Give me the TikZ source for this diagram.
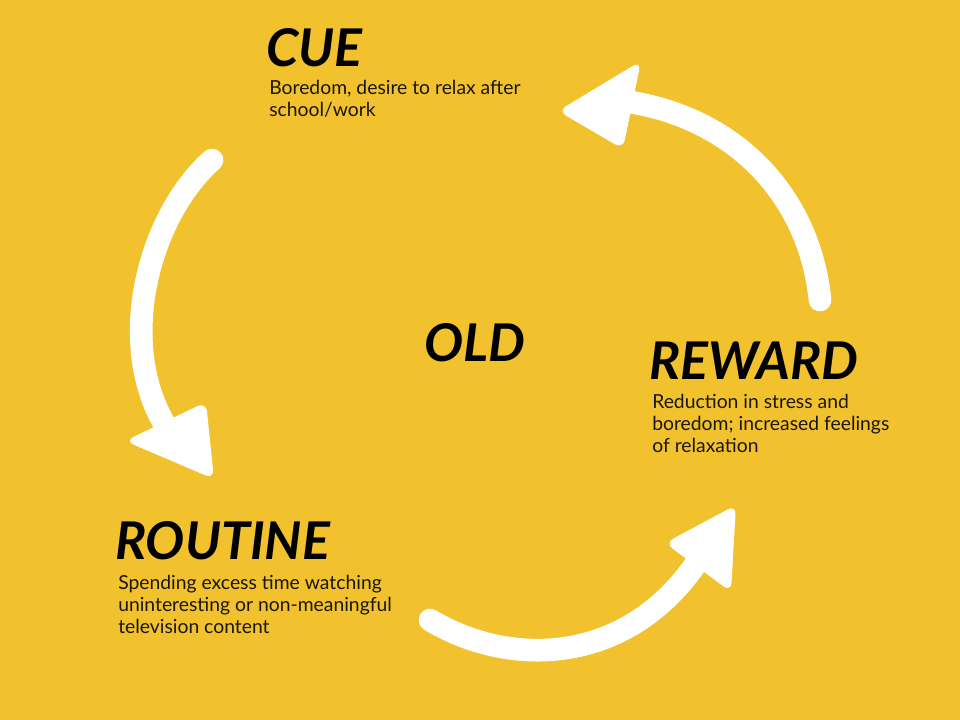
\documentclass[tikz,border=0pt]{standalone}
\usepackage{fontspec}
\setmainfont{Lato}
\definecolor{bgyellow}{RGB}{242,193,46}
\definecolor{bodyink}{RGB}{26,22,12}
\begin{document}
\begin{tikzpicture}[x=0.75pt,y=-0.75pt,
  heading/.style={anchor=base west,inner sep=0pt,font=\fontsize{39}{42}\selectfont\bfseries\itshape,text=black},
  bodytext/.style={anchor=base west,inner sep=0pt,align=left,font=\fontsize{14.5}{16.5}\selectfont,text=bodyink},
  shaft/.style={draw=white,line width=17pt,line cap=round},
  headtri/.style={fill=white,rounded corners=7pt}]
\fill[bgyellow] (0,0) rectangle (960,720);
\useasboundingbox (0,0) rectangle (960,720);
% texts (multi-line nodes: base = last line's baseline)
\node[heading] (cue) at (266,67) {CUE};
\node[bodytext] (cuebody) at (269,117) {Boredom, desire to relax after\\school/work};
\node[heading] (routine) at (115,559) {ROUTINE};
\node[bodytext] (routinebody) at (118,633) {Spending excess time watching\\uninteresting or non-meaningful\\television content};
\node[heading] (reward) at (649,379) {REWARD};
\node[bodytext] (rewardbody) at (652,452) {Reduction in stress and\\boredom; increased feelings\\of relaxation};
\node[heading] (old) at (424,361) {OLD};
% left arrow
\coordinate (la0) at (212,160);
\coordinate (la1) at (165,425);
\draw[shaft] (la0) .. controls (150,215) and (115,340) .. (la1);
\coordinate (lh1) at (125,441);
\coordinate (lh2) at (206,402);
\coordinate (lh3) at (214,479);
\fill[headtri] (lh1) -- (lh2) -- (lh3) -- cycle;
% top-right arrow
\coordinate (ta0) at (820,300);
\coordinate (ta1) at (630,102);
\draw[shaft] (ta0) .. controls (810,200) and (740,120) .. (ta1);
\coordinate (th1) at (558,111);
\coordinate (th2) at (641,61);
\coordinate (th3) at (623,149);
\fill[headtri] (th1) -- (th2) -- (th3) -- cycle;
% bottom arrow
\coordinate (ba0) at (430,620);
\coordinate (ba1) at (695,565);
\draw[shaft] (ba0) .. controls (510,668) and (625,665) .. (ba1);
\coordinate (bh1) at (665,543);
\coordinate (bh2) at (736,505);
\coordinate (bh3) at (731,592);
\fill[headtri] (bh1) -- (bh2) -- (bh3) -- cycle;
\end{tikzpicture}
\end{document}
